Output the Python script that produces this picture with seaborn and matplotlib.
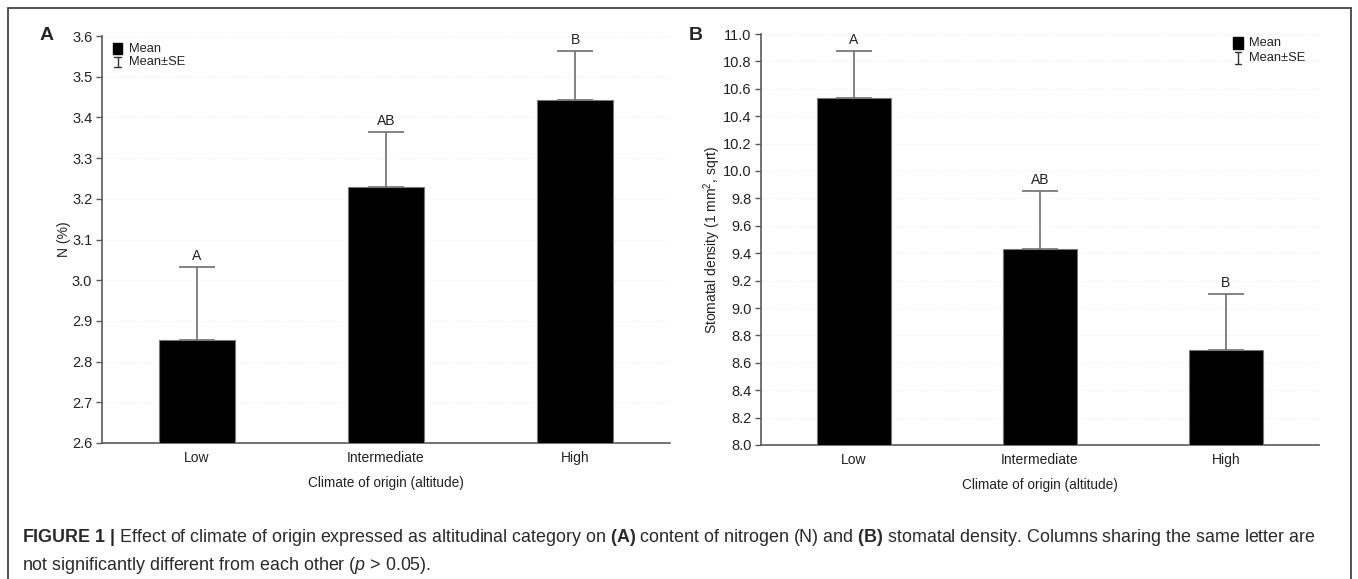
import matplotlib
matplotlib.use("Agg")
import matplotlib.pyplot as plt
import seaborn as sns
import numpy as np
import pandas as pd
from matplotlib.patches import Rectangle
from matplotlib.lines import Line2D

# ---------------- data ----------------
categories = ["Low", "Intermediate", "High"]
n_mean = [2.853, 3.229, 3.443]
n_se = [0.180, 0.135, 0.120]
n_letters = ["A", "AB", "B"]
sd_mean = [10.53, 9.428, 8.693]
sd_se = [0.348, 0.426, 0.407]
sd_letters = ["A", "AB", "B"]

sns.set_theme(style="white")
plt.rcParams['font.family'] = ['Liberation Sans', 'DejaVu Sans']
plt.rcParams['mathtext.fontset'] = 'custom'
plt.rcParams['mathtext.rm'] = 'Liberation Sans'
plt.rcParams['mathtext.bf'] = 'Liberation Sans:bold'
plt.rcParams['mathtext.it'] = 'Liberation Sans:italic'

W, H = 1358, 579
fig = plt.figure(figsize=(W / 100, H / 100), dpi=100)
fig.patch.set_facecolor("white")


def px_axes(l, r, t, b):
    return fig.add_axes([l / W, 1 - b / H, (r - l) / W, (b - t) / H])


axA = px_axes(102, 670, 36, 443)
axB = px_axes(761, 1319, 34, 445)

SPINE = "#5a5a5a"
ERR = "#6e6e6e"
TXT = "#222222"


def draw(ax, means, ses, letters, ylim, yticks, fmt, ylabel, labelpad):
    df = pd.DataFrame({"cat": categories, "val": means})
    sns.barplot(data=df, x="cat", y="val", color="black", width=0.40,
                errorbar=None, ax=ax, edgecolor="#777777", linewidth=0.8,
                saturation=1)
    for p in ax.patches:
        p.set_zorder(3)
    x = np.arange(len(categories))
    ax.errorbar(x, means, yerr=[np.zeros(len(ses)), ses], fmt="none",
                ecolor=ERR, elinewidth=1.2, capsize=13, capthick=1.2, zorder=2)
    for xi, m, s, lab in zip(x, means, ses, letters):
        ax.annotate(lab, (xi, m + s), xytext=(0, 3), textcoords="offset points",
                    ha="center", va="bottom", fontsize=10, color=TXT)
    ax.set_xlim(-0.5, 2.5)
    ax.set_ylim(*ylim)
    ax.set_yticks(yticks)
    ax.set_yticklabels([fmt.format(t) for t in yticks])
    ax.yaxis.grid(True, color="#efefef", linestyle=":", linewidth=0.8)
    ax.set_axisbelow(True)
    for s in ["top", "right"]:
        ax.spines[s].set_visible(False)
    for s in ["left", "bottom"]:
        ax.spines[s].set_color(SPINE)
        ax.spines[s].set_linewidth(1.2)
    ax.tick_params(axis="y", left=True, length=4, width=1, color=SPINE,
                   labelsize=10.5, labelcolor=TXT, pad=3)
    ax.tick_params(axis="x", bottom=False, length=0, labelsize=10,
                   labelcolor=TXT, pad=6)
    ax.set_xlabel("Climate of origin (altitude)", fontsize=9.8, color=TXT,
                  labelpad=8)
    ax.set_ylabel(ylabel, fontsize=10, color=TXT, labelpad=labelpad)


draw(axA, n_mean, n_se, n_letters, (2.6, 3.6), np.round(np.arange(2.6, 3.61, 0.1), 1),
     "{:.1f}", "N (%)", 0.5)
draw(axB, sd_mean, sd_se, sd_letters, (8.0, 11.0), np.round(np.arange(8.0, 11.01, 0.2), 1),
     "{:.1f}", "Stomatal density (1 mm$^2$, sqrt)", -0.5)


def legend(ax, sq, txt_x, y_mean, sym_x, sym_y0, sym_y1, y_se, cap):
    ax.add_patch(Rectangle((sq[0], sq[1]), sq[2], sq[3], transform=ax.transAxes,
                           facecolor="black", edgecolor="black", clip_on=False, zorder=5))
    ax.text(txt_x, y_mean, "Mean", transform=ax.transAxes, fontsize=9.3,
            va="center", ha="left", color=TXT)
    ax.add_line(Line2D([sym_x, sym_x], [sym_y0, sym_y1], transform=ax.transAxes,
                       color="#333333", lw=1, clip_on=False))
    for yy in (sym_y0, sym_y1):
        ax.add_line(Line2D([sym_x - cap, sym_x + cap], [yy, yy], transform=ax.transAxes,
                           color="#333333", lw=1, clip_on=False))
    ax.text(txt_x, y_se, "Mean\u00b1SE", transform=ax.transAxes, fontsize=9.3,
            va="center", ha="left", color=TXT)


legend(axA, (0.0194, 0.956, 0.0158, 0.027), 0.0475, 0.969, 0.0273, 0.924, 0.948, 0.936, 0.0053)
legend(axB, (0.846, 0.9635, 0.018, 0.029), 0.8746, 0.978, 0.855, 0.927, 0.956, 0.9416, 0.0054)

# panel letters
fig.text(40 / W, 1 - 35 / H, "A", fontsize=14, fontweight="bold", ha="left", va="center")
fig.text(689 / W, 1 - 35 / H, "B", fontsize=14, fontweight="bold", ha="left", va="center")

# frame
fc = "#444444"
fig.add_artist(Line2D([8 / W, 1351 / W], [1 - 8 / H, 1 - 8 / H], transform=fig.transFigure, color=fc, lw=1.3))
fig.add_artist(Line2D([8 / W, 8 / W], [1 - 8 / H, 0], transform=fig.transFigure, color=fc, lw=1.3))
fig.add_artist(Line2D([1351 / W, 1351 / W], [1 - 8 / H, 0], transform=fig.transFigure, color=fc, lw=1.3))

# caption
cap1 = (r"$\mathbf{FIGURE\ 1\ |}$ Effect of climate of origin expressed as altitudinal category on "
        r"$\mathbf{(A)}$ content of nitrogen (N) and $\mathbf{(B)}$ stomatal density. "
        r"Columns sharing the same letter are")
cap2 = r"not significantly different from each other ($\mathit{p}$ > 0.05)."
fig.text(22 / W, 1 - 537 / H, cap1, fontsize=12.9, ha="left", va="center", color="#2a2a2a")
fig.text(22 / W, 1 - 565 / H, cap2, fontsize=12.9, ha="left", va="center", color="#2a2a2a")

fig.savefig("out.png", dpi=100, facecolor="white")
